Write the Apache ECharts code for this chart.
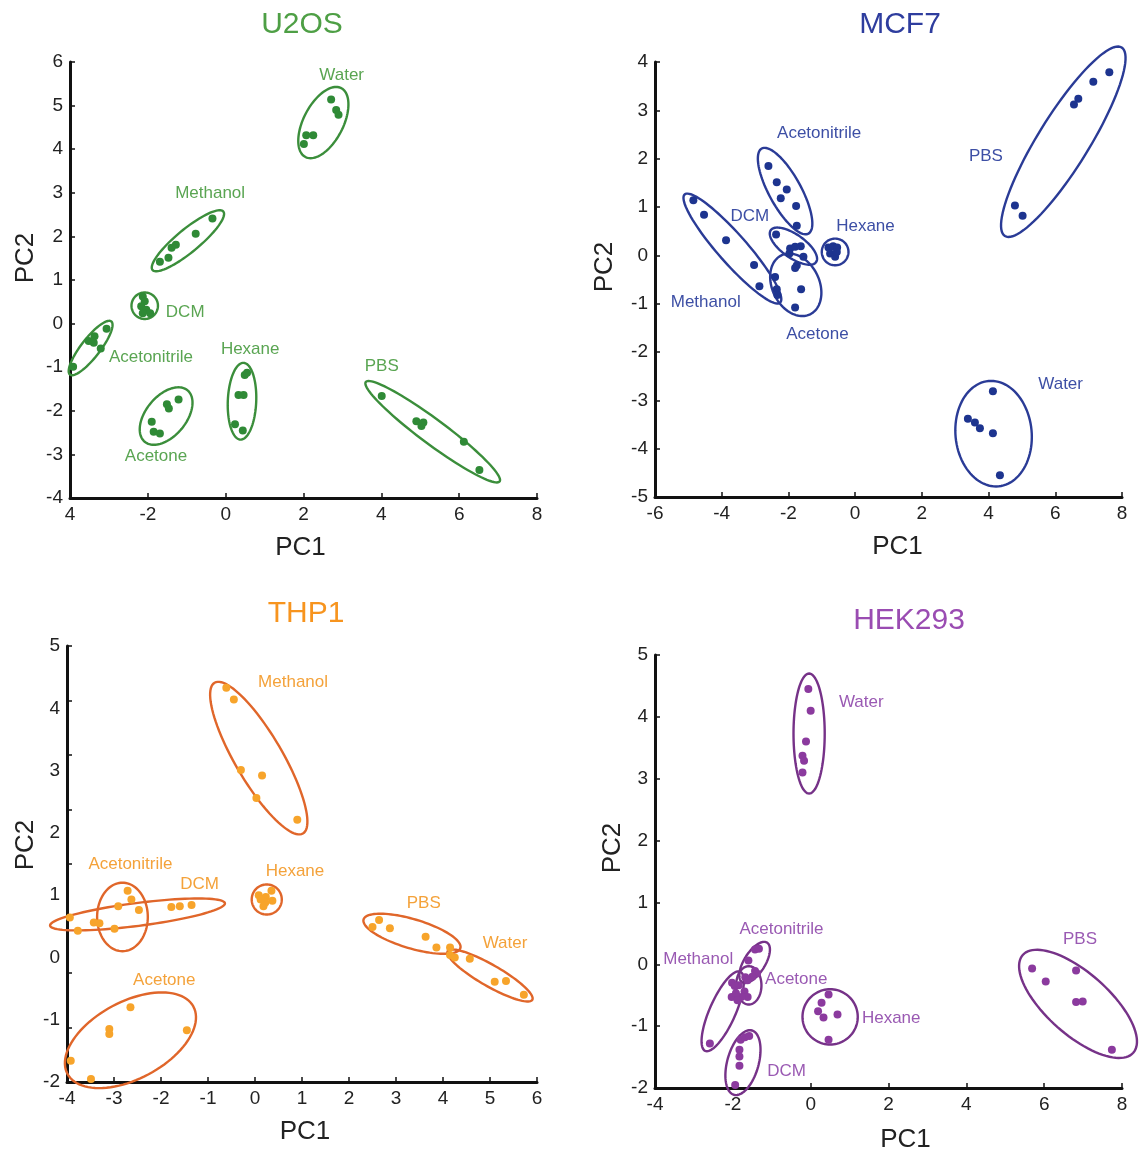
<!DOCTYPE html>
<html>
<head>
<meta charset="utf-8">
<script src="https://cdn.jsdelivr.net/npm/echarts@6/dist/echarts.min.js"></script>
<style>
	html, body {margin: 0; padding: 0; background: #fff}
	#main {width: 1140px; height: 1157px}
</style>
</head>
<body>
<div id="main"></div>
<script>
//散点 [PC1, PC2]
var u2osPoints = [
	[2.71, 5.14], [2.84, 4.90], [2.90, 4.79], [2.07, 4.32], [2.25, 4.32], [2.01, 4.12], //Water
	[-1.69, 1.42], [-1.47, 1.51], [-1.39, 1.74], [-1.28, 1.81], [-0.77, 2.06], [-0.34, 2.41], //Methanol
	[-2.13, 0.62], [-2.08, 0.51], [-2.17, 0.40], [-2.04, 0.32], [-1.94, 0.24], [-2.13, 0.24], //DCM
	[-3.92, -0.99], [-3.52, -0.40], [-3.37, -0.29], [-3.39, -0.44], [-3.21, -0.57], [-3.06, -0.12], //Acetonitrile
	[0.49, -1.18], [0.55, -1.13], [0.33, -1.64], [0.46, -1.64], [0.24, -2.31], [0.44, -2.45], //Hexane
	[-1.90, -2.25], [-1.85, -2.48], [-1.69, -2.52], [-1.51, -1.85], [-1.46, -1.95], [-1.21, -1.74], //Acetone
	[4.01, -1.66], [4.90, -2.24], [5.03, -2.35], [5.08, -2.27], [6.12, -2.71], [6.52, -3.36] //PBS
]
var mcf7Points = [
	[-2.60, 1.85], [-2.35, 1.51], [-2.05, 1.36], [-2.23, 1.18], [-1.77, 1.02], [-1.75, 0.61], //Acetonitrile
	[-2.37, 0.43], [-1.95, 0.14], [-1.80, 0.18], [-1.63, 0.19], [-1.97, 0.04], [-1.55, -0.03], //DCM
	[-0.80, 0.16], [-0.66, 0.19], [-0.54, 0.16], [-0.75, 0.04], [-0.60, -0.03], [-0.55, 0.07], //Hexane
	[-4.85, 1.14], [-4.53, 0.84], [-3.87, 0.31], [-3.03, -0.20], [-2.87, -0.64], [-2.35, -0.70], //Methanol
	[-2.40, -0.45], [-2.33, -0.82], [-1.62, -0.70], [-1.80, -1.08], [-1.75, -0.21], [-1.80, -0.26], //Acetone
	[7.62, 3.79], [7.14, 3.59], [6.69, 3.24], [6.56, 3.12], [4.79, 1.03], [5.02, 0.82], //PBS
	[4.13, -2.81], [3.38, -3.38], [3.59, -3.46], [3.74, -3.58], [4.13, -3.68], [4.34, -4.55] //Water
]
var thp1Points = [
	[-0.61, 4.33], [-0.45, 4.14], [-0.30, 3.01], [0.15, 2.92], [0.03, 2.56], [0.90, 2.21], //Methanol
	[-2.99, 0.46], [-2.91, 0.82], [-2.71, 1.07], [-2.63, 0.93], [-2.47, 0.76], [-3.31, 0.55], //Acetonitrile
	[-3.94, 0.64], [-3.77, 0.43], [-3.43, 0.56], [-1.78, 0.81], [-1.60, 0.82], [-1.35, 0.84], //DCM
	[0.08, 1.00], [0.23, 0.97], [0.35, 1.07], [0.37, 0.91], [0.22, 0.88], [0.18, 0.82], [0.12, 0.93], //Hexane
	[2.50, 0.49], [2.64, 0.60], [2.87, 0.47], [3.63, 0.33], [3.86, 0.16], [4.15, 0.16], //PBS
	[4.15, 0.04], [4.25, 0.00], [4.57, -0.02], [5.10, -0.39], [5.34, -0.38], [5.72, -0.60], //Water
	[-2.65, -0.80], [-3.10, -1.15], [-3.10, -1.23], [-1.45, -1.17], [-3.92, -1.66], [-3.49, -1.95] //Acetone
]
var hekPoints = [
	[-0.06, 4.45], [0.00, 4.10], [-0.12, 3.60], [-0.21, 3.37], [-0.17, 3.29], [-0.21, 3.10], //Water
	[-1.43, 0.24], [-1.33, 0.25], [-1.60, 0.06], [-1.43, -0.11], [-1.38, -0.15], [-1.50, -0.20], //Acetonitrile
	[-1.68, -0.21], [-1.62, -0.26], [-1.85, -0.34], [-1.70, -0.44], [-1.62, -0.53], [-1.78, -0.53], //Acetone
	[-2.59, -1.28], [-2.02, -0.30], [-1.95, -0.35], [-2.03, -0.53], [-1.92, -0.47], [-1.88, -0.58], //Methanol
	[0.46, -0.49], [0.28, -0.62], [0.19, -0.76], [0.33, -0.86], [0.69, -0.81], [0.46, -1.22], //Hexane
	[-1.80, -1.22], [-1.69, -1.18], [-1.58, -1.16], [-1.83, -1.38], [-1.83, -1.49], [-1.83, -1.64], [-1.94, -1.95], //DCM
	[5.69, -0.07], [6.04, -0.28], [6.82, -0.10], [6.82, -0.61], [6.99, -0.60], [7.74, -1.38] //PBS
]

//椭圆 [中心x, 中心y, 长轴端点x, 长轴端点y, 短轴/长轴]
var u2osEllipses = [
	[2.51, 4.61, 2.97, 5.40, 0.51],
	[-0.97, 1.90, -0.06, 2.57, 0.25],
	[-2.08, 0.41, -1.74, 0.41, 1.0],
	[-3.47, -0.56, -2.94, 0.05, 0.28],
	[0.42, -1.78, 0.46, -0.90, 0.37],
	[-1.53, -2.12, -0.98, -1.53, 0.6],
	[5.32, -2.48, 7.04, -3.62, 0.15]
]
var mcf7Ellipses = [
	[-2.10, 1.33, -1.40, 0.45, 0.33],
	[-1.85, 0.19, -1.17, -0.14, 0.42],
	[-1.78, -0.61, -1.35, -1.22, 0.72],
	[-3.68, 0.14, -2.25, -0.98, 0.2],
	[-0.60, 0.07, -0.20, 0.07, 1.0],
	[6.24, 2.35, 7.99, 4.30, 0.23],
	[4.15, -3.69, 4.00, -2.60, 0.72]
]
var thp1Ellipses = [
	[0.08, 3.20, 1.02, 1.99, 0.27],
	[-2.82, 0.65, -2.82, 1.20, 0.74],
	[-2.50, 0.69, -0.64, 0.87, 0.13],
	[0.25, 0.93, 0.57, 0.93, 1.0],
	[3.34, 0.38, 4.37, 0.15, 0.29],
	[5.00, -0.29, 5.90, -0.68, 0.22],
	[-2.65, -1.33, -1.31, -0.79, 0.54]
]
var hekEllipses = [
	[-0.04, 3.73, -0.04, 4.70, 0.26],
	[-1.44, 0.03, -1.12, 0.35, 0.45],
	[-1.59, -0.34, -1.59, -0.03, 0.66],
	[-2.26, -0.76, -1.81, -0.12, 0.3],
	[0.50, -0.85, 1.21, -0.85, 1.0],
	[-1.74, -1.59, -1.51, -1.07, 0.47],
	[6.87, -0.64, 8.29, -1.43, 0.42]
]

//标签 [名称, x, y]
var u2osLabels = [['Water', 2.98, 5.70], ['Methanol', -0.40, 2.98], ['DCM', -1.04, 0.26], ['Acetonitrile', -1.92, -0.77], ['Hexane', 0.63, -0.58], ['PBS', 4.01, -0.99], ['Acetone', -1.79, -3.04]]
var mcf7Labels = [['Acetonitrile', -1.08, 2.53], ['PBS', 3.92, 2.04], ['DCM', -3.16, 0.80], ['Hexane', 0.31, 0.61], ['Methanol', -4.48, -0.97], ['Acetone', -1.13, -1.63], ['Water', 6.16, -2.67]]
var thp1Labels = [['Methanol', 0.81, 4.42], ['Acetonitrile', -2.65, 1.50], ['DCM', -1.18, 1.18], ['Hexane', 0.85, 1.39], ['PBS', 3.59, 0.87], ['Water', 5.32, 0.22], ['Acetone', -1.93, -0.36]]
var hekLabels = [['Water', 1.30, 4.24], ['Acetonitrile', -0.75, 0.56], ['Methanol', -2.89, 0.08], ['Acetone', -0.37, -0.24], ['PBS', 6.92, 0.40], ['Hexane', 2.07, -0.87], ['DCM', -0.62, -1.73]]

//THP1 纵轴刻度与标签不对齐
var thp1YTicks = [-2, -1.125, -0.25, 0.625, 1.5, 2.375, 3.25, 4.125, 5]

var FONT = 'Liberation Sans, Arial, sans-serif'

var panels = [
	{title: 'U2OS', pts: u2osPoints, ell: u2osEllipses, lab: u2osLabels,
		titleColor: '#4e9f45', dot: '#2f8a36', line: '#3b8e3b', text: '#5aa552',
		grid: {left: 70, top: 62, width: 467, height: 436}, titlePos: [302, 10],
		x: [-4, 8, 2], y: [-4, 6, 1], xGap: 37, yGap: 31, xPad: -3, yPad: 44},
	{title: 'MCF7', pts: mcf7Points, ell: mcf7Ellipses, lab: mcf7Labels,
		titleColor: '#2e3d9e', dot: '#1d348f', line: '#2a3b96', text: '#3d4fa5',
		grid: {left: 655, top: 62, width: 467, height: 435}, titlePos: [900, 10],
		x: [-6, 8, 2], y: [-5, 4, 1], xGap: 37, yGap: 37, xPad: 9, yPad: 25},
	{title: 'THP1', pts: thp1Points, ell: thp1Ellipses, lab: thp1Labels,
		titleColor: '#f7941e', dot: '#f7a42b', line: '#e0662a', text: '#f4a23a',
		grid: {left: 67, top: 646, width: 470, height: 436}, titlePos: [306, 599],
		x: [-4, 6, 1], y: [-2, 5, 1], xGap: 37, yGap: 27, xPad: 3, yPad: 38, yTicks: thp1YTicks},
	{title: 'HEK293', pts: hekPoints, ell: hekEllipses, lab: hekLabels,
		titleColor: '#9a4cb2', dot: '#8b3a9e', line: '#763288', text: '#9a5ab3',
		grid: {left: 655, top: 655, width: 467, height: 433}, titlePos: [909, 606],
		x: [-4, 8, 2], y: [-2, 5, 1], xGap: 39, yGap: 29, xPad: 17, yPad: 47}
]

function ellipseItem(color) {
	return function(params, api) {
		var c = api.coord([api.value(0), api.value(1)])
		var t = api.coord([api.value(2), api.value(3)])
		var r = api.value(4)
		var ux = t[0] - c[0], uy = t[1] - c[1]
		var vx = -uy * r, vy = ux * r
		var pts = []
		for (var k = 0; k < 96; k++) {
			var a = k / 96 * Math.PI * 2
			pts.push([c[0] + Math.cos(a) * ux + Math.sin(a) * vx, c[1] + Math.cos(a) * uy + Math.sin(a) * vy])
		}
		return {type: 'polygon', shape: {points: pts}, style: {fill: 'none', stroke: color, lineWidth: 2.4}}
	}
}

function labelItem(list, color) {
	return function(params, api) {
		var p = api.coord([api.value(0), api.value(1)])
		return {
			type: 'text', x: p[0], y: p[1],
			style: {text: list[params.dataIndex][0], fill: color, fontSize: 17, fontFamily: FONT, align: 'center', verticalAlign: 'middle'}
		}
	}
}

var option = {backgroundColor: '#fff', animation: false, title: [], grid: [], xAxis: [], yAxis: [], series: []}

for (var i = 0; i < panels.length; i++) {
	var p = panels[i]
	option.title.push({
		text: p.title, left: p.titlePos[0], top: p.titlePos[1], textAlign: 'center', padding: 0,
		textStyle: {color: p.titleColor, fontSize: 30, fontWeight: 'normal', fontFamily: FONT}
	})
	option.grid.push(p.grid)
	var axisCommon = {
		type: 'value', gridIndex: i, splitLine: {show: false},
		axisLine: {onZero: false, lineStyle: {color: '#111', width: 3}},
		axisTick: {inside: true, length: 5, lineStyle: {color: '#111', width: 1.5}},
		axisLabel: {color: '#222', fontSize: 19, fontFamily: FONT, margin: 7},
		nameLocation: 'middle'
	}
	//名称偏移用 padding 实现
	var xPadding = p.xPad >= 0 ? [0, 0, 0, p.xPad * 2] : [0, -p.xPad * 2, 0, 0]
	var xa = echarts.util.merge({
		min: p.x[0], max: p.x[1], interval: p.x[2], name: 'PC1', nameGap: p.xGap,
		nameTextStyle: {color: '#222', fontSize: 26, fontFamily: FONT, padding: xPadding}
	}, axisCommon, false)
	if (i === 0) {
		//原图 -4 显示为 4
		xa.axisLabel = echarts.util.merge({formatter: function(v) { return v === -4 ? '4' : String(v) }}, axisCommon.axisLabel)
	}
	var ya = echarts.util.merge({
		min: p.y[0], max: p.y[1], interval: p.y[2], name: 'PC2', nameGap: p.yGap,
		nameTextStyle: {color: '#222', fontSize: 26, fontFamily: FONT, padding: [0, 0, 0, p.yPad]}
	}, axisCommon, false)
	if (p.yTicks) {
		ya.axisTick = {inside: true, length: 5, customValues: p.yTicks, lineStyle: {color: '#111', width: 1.5}}
	}
	option.xAxis.push(xa)
	option.yAxis.push(ya)

	option.series.push({
		type: 'custom', coordinateSystem: 'cartesian2d', xAxisIndex: i, yAxisIndex: i,
		renderItem: ellipseItem(p.line), encode: {x: [0, 2], y: [1, 3]}, clip: false, silent: true,
		data: p.ell
	})
	option.series.push({
		type: 'scatter', xAxisIndex: i, yAxisIndex: i, symbolSize: 8,
		itemStyle: {color: p.dot, opacity: 1}, data: p.pts
	})
	option.series.push({
		type: 'custom', coordinateSystem: 'cartesian2d', xAxisIndex: i, yAxisIndex: i,
		renderItem: labelItem(p.lab, p.text), encode: {x: 0, y: 1}, clip: false, silent: true,
		data: p.lab.map(function(d) { return [d[1], d[2]] })
	})
}

var chart = echarts.init(document.getElementById('main'))
chart.setOption(option)
</script>
</body>
</html>
